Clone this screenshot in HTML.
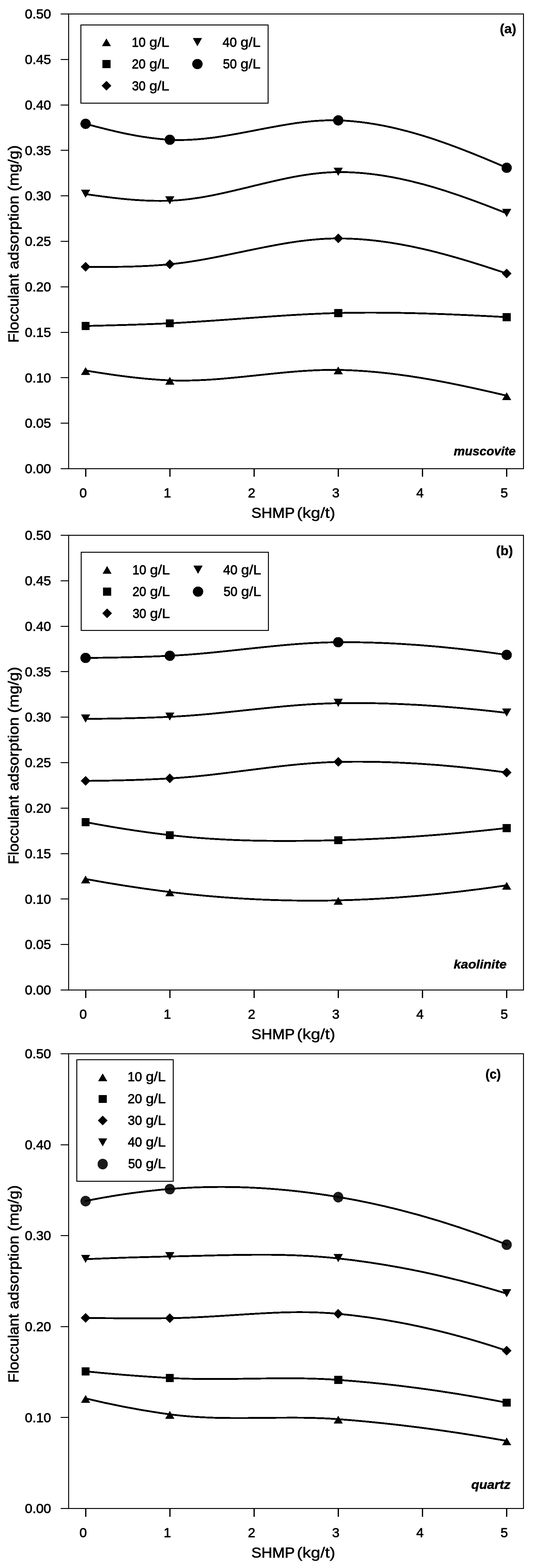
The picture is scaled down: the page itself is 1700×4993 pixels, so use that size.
<!DOCTYPE html>
<html lang="en"><head><meta charset="utf-8"><title>Flocculant adsorption (mg/g) vs SHMP (kg/t)</title>
<style>
html,body{margin:0;padding:0;background:#fff}
body{width:1700px;height:4993px;overflow:hidden}
svg{display:block}
text{font-family:"Liberation Sans",sans-serif;fill:#000;stroke:#000;stroke-linejoin:round}
.tk{font-size:42.3px}
.ti{font-size:45.5px}
.lg{font-size:42.3px}
.pl{font-size:42.0px;font-weight:bold}
.mn{font-size:38.6px;font-weight:bold;font-style:italic}
</style></head><body>
<svg width="1700" height="4993" viewBox="0 0 1700 4993">
<rect width="1700" height="4993" fill="#fff"/>

<g id="chart1" shape-rendering="crispEdges">
<rect x="218.5" y="44.5" width="1448.0" height="1448.0" fill="none" stroke="#000" stroke-width="3.0"/>
<path d="M193.0 1492.5H218.5M193.0 1347.7H218.5M193.0 1202.9H218.5M193.0 1058.1H218.5M193.0 913.3H218.5M193.0 768.5H218.5M193.0 623.7H218.5M193.0 478.9H218.5M193.0 334.1H218.5M193.0 189.3H218.5M193.0 44.5H218.5" stroke="#000" stroke-width="3.0" fill="none"/>
<path d="M271 1492h4v26h-4zM539 1492h4v26h-4zM807 1492h4v26h-4zM1075 1492h4v26h-4zM1343 1492h4v26h-4zM1611 1492h4v26h-4z" fill="#000"/>
<text class="tk" x="79.38" y="1507.20" textLength="83.19" lengthAdjust="spacingAndGlyphs" stroke-width="1.18">0.00</text>
<text class="tk" x="79.38" y="1362.40" textLength="83.31" lengthAdjust="spacingAndGlyphs" stroke-width="1.17">0.05</text>
<text class="tk" x="79.38" y="1217.60" textLength="83.19" lengthAdjust="spacingAndGlyphs" stroke-width="1.18">0.10</text>
<text class="tk" x="79.38" y="1072.80" textLength="83.31" lengthAdjust="spacingAndGlyphs" stroke-width="1.17">0.15</text>
<text class="tk" x="79.38" y="928.00" textLength="83.19" lengthAdjust="spacingAndGlyphs" stroke-width="1.18">0.20</text>
<text class="tk" x="79.38" y="783.20" textLength="83.31" lengthAdjust="spacingAndGlyphs" stroke-width="1.17">0.25</text>
<text class="tk" x="79.38" y="638.40" textLength="83.19" lengthAdjust="spacingAndGlyphs" stroke-width="1.18">0.30</text>
<text class="tk" x="79.38" y="493.60" textLength="83.31" lengthAdjust="spacingAndGlyphs" stroke-width="1.17">0.35</text>
<text class="tk" x="79.38" y="348.80" textLength="83.19" lengthAdjust="spacingAndGlyphs" stroke-width="1.18">0.40</text>
<text class="tk" x="79.38" y="204.00" textLength="83.31" lengthAdjust="spacingAndGlyphs" stroke-width="1.17">0.45</text>
<text class="tk" x="79.38" y="59.20" textLength="83.19" lengthAdjust="spacingAndGlyphs" stroke-width="1.18">0.50</text>
<text class="tk" x="264.7" y="1584.3" text-anchor="middle" stroke-width="1.2">0</text>
<text class="tk" x="532.8" y="1584.3" text-anchor="middle" stroke-width="1.2">1</text>
<text class="tk" x="800.9" y="1584.3" text-anchor="middle" stroke-width="1.2">2</text>
<text class="tk" x="1069.0" y="1584.3" text-anchor="middle" stroke-width="1.2">3</text>
<text class="tk" x="1337.1" y="1584.3" text-anchor="middle" stroke-width="1.2">4</text>
<text class="tk" x="1605.2" y="1584.3" text-anchor="middle" stroke-width="1.2">5</text>
<text class="ti" y="1648.60"><tspan x="800.34" textLength="137.03" lengthAdjust="spacingAndGlyphs" stroke-width="1.15">SHMP</tspan> <tspan x="944.95" textLength="122.62" lengthAdjust="spacingAndGlyphs" stroke-width="0.83">(kg/t)</tspan></text>
<text class="ti" transform="translate(59.30 1087.90) rotate(-90)" y="0"><tspan x="-3.41" textLength="219.22" lengthAdjust="spacingAndGlyphs" stroke-width="1.12">Flocculant</tspan> <tspan x="230.47" textLength="234.59" lengthAdjust="spacingAndGlyphs" stroke-width="1.01">adsorption</tspan> <tspan x="479.02" textLength="146.64" lengthAdjust="spacingAndGlyphs" stroke-width="0.99">(mg/g)</tspan></text>
<path d="M272.50 1179.90C361.87 1194.53 451.23 1207.56 540.60 1211.10C719.33 1218.17 898.07 1175.12 1076.80 1178.00C1255.53 1180.88 1434.27 1217.56 1613.00 1260.00" fill="none" stroke="#000" stroke-width="5.8" stroke-linecap="round"/>
<path d="M272.50 1038.00C361.87 1035.96 451.23 1033.66 540.60 1029.40C719.33 1020.88 898.07 1001.19 1076.80 996.80C1255.53 992.41 1434.27 1000.01 1613.00 1009.90" fill="none" stroke="#000" stroke-width="5.8" stroke-linecap="round"/>
<path d="M272.50 849.60C361.87 850.43 451.23 850.16 540.60 841.50C719.33 824.17 898.07 759.15 1076.80 759.20C1255.53 759.25 1434.27 810.27 1613.00 871.00" fill="none" stroke="#000" stroke-width="5.8" stroke-linecap="round"/>
<path d="M272.50 618.00C361.87 631.26 451.23 642.30 540.60 639.10C719.33 632.70 898.07 549.31 1076.80 548.00C1255.53 546.69 1434.27 607.43 1613.00 679.30" fill="none" stroke="#000" stroke-width="5.8" stroke-linecap="round"/>
<path d="M272.50 394.30C361.87 418.51 451.23 439.99 540.60 445.00C719.33 455.01 898.07 377.61 1076.80 383.30C1255.53 388.99 1434.27 456.28 1613.00 534.20" fill="none" stroke="#000" stroke-width="5.8" stroke-linecap="round"/>
<path d="M257.9 1193.9L272.5 1168.9L287.1 1193.9Z" fill="#000"/>
<path d="M526.0 1225.1L540.6 1200.1L555.2 1225.1Z" fill="#000"/>
<path d="M1062.2 1192.0L1076.8 1167.0L1091.4 1192.0Z" fill="#000"/>
<path d="M1598.4 1274.0L1613.0 1249.0L1627.6 1274.0Z" fill="#000"/>
<rect x="259.7" y="1025.2" width="25.6" height="25.6" fill="#000"/>
<rect x="527.8" y="1016.6" width="25.6" height="25.6" fill="#000"/>
<rect x="1064.0" y="984.0" width="25.6" height="25.6" fill="#000"/>
<rect x="1600.2" y="997.1" width="25.6" height="25.6" fill="#000"/>
<path d="M257.1 849.6L272.5 834.2L287.9 849.6L272.5 865.0Z" fill="#000"/>
<path d="M525.2 841.5L540.6 826.1L556.0 841.5L540.6 856.9Z" fill="#000"/>
<path d="M1061.4 759.2L1076.8 743.8L1092.2 759.2L1076.8 774.6Z" fill="#000"/>
<path d="M1597.6 871.0L1613.0 855.6L1628.4 871.0L1613.0 886.4Z" fill="#000"/>
<path d="M257.9 604.0L272.5 630.0L287.1 604.0Z" fill="#000"/>
<path d="M526.0 625.1L540.6 651.1L555.2 625.1Z" fill="#000"/>
<path d="M1062.2 534.0L1076.8 560.0L1091.4 534.0Z" fill="#000"/>
<path d="M1598.4 665.3L1613.0 691.3L1627.6 665.3Z" fill="#000"/>
<circle cx="272.5" cy="394.3" r="16.4" fill="#000"/>
<circle cx="540.6" cy="445.0" r="16.4" fill="#000"/>
<circle cx="1076.8" cy="383.3" r="16.4" fill="#000"/>
<circle cx="1613.0" cy="534.2" r="16.4" fill="#000"/>
<rect x="257.5" y="79.5" width="595.8" height="249.0" fill="#fff" stroke="#000" stroke-width="3.0"/>
<path d="M324.3 147.4L338.9 122.4L353.5 147.4Z" fill="#000"/>
<text class="lg" y="149.30"><tspan x="419.39" textLength="44.12" lengthAdjust="spacingAndGlyphs" stroke-width="1.33">10</tspan> <tspan x="475.58" textLength="63.39" lengthAdjust="spacingAndGlyphs" stroke-width="1.03">g/L</tspan></text>
<rect x="326.1" y="191.1" width="25.6" height="25.6" fill="#000"/>
<text class="lg" y="218.40"><tspan x="419.70" textLength="43.79" lengthAdjust="spacingAndGlyphs" stroke-width="1.35">20</tspan> <tspan x="475.58" textLength="63.39" lengthAdjust="spacingAndGlyphs" stroke-width="1.03">g/L</tspan></text>
<path d="M323.5 272.9L338.9 257.5L354.3 272.9L338.9 288.3Z" fill="#000"/>
<text class="lg" y="287.50"><tspan x="420.23" textLength="43.23" lengthAdjust="spacingAndGlyphs" stroke-width="1.37">30</tspan> <tspan x="475.58" textLength="63.39" lengthAdjust="spacingAndGlyphs" stroke-width="1.03">g/L</tspan></text>
<path d="M613.9 121.3L628.5 147.3L643.1 121.3Z" fill="#000"/>
<text class="lg" y="149.30"><tspan x="708.52" textLength="45.37" lengthAdjust="spacingAndGlyphs" stroke-width="1.28">40</tspan> <tspan x="765.88" textLength="63.39" lengthAdjust="spacingAndGlyphs" stroke-width="1.03">g/L</tspan></text>
<circle cx="628.5" cy="203.9" r="16.4" fill="#000"/>
<text class="lg" y="218.40"><tspan x="709.68" textLength="44.14" lengthAdjust="spacingAndGlyphs" stroke-width="1.33">50</tspan> <tspan x="765.88" textLength="63.39" lengthAdjust="spacingAndGlyphs" stroke-width="1.03">g/L</tspan></text>
<text class="pl" x="1591.18" y="106.00" textLength="52.42" lengthAdjust="spacingAndGlyphs" stroke-width="0.66">(a)</text>
<text class="mn" x="1444.57" y="1450.20" textLength="197.11" lengthAdjust="spacingAndGlyphs" stroke-width="0.94">muscovite</text>
</g>
<g id="chart2" shape-rendering="crispEdges">
<rect x="218.5" y="1704.5" width="1448.0" height="1448.0" fill="none" stroke="#000" stroke-width="3.0"/>
<path d="M193.0 3152.5H218.5M193.0 3007.7H218.5M193.0 2862.9H218.5M193.0 2718.1H218.5M193.0 2573.3H218.5M193.0 2428.5H218.5M193.0 2283.7H218.5M193.0 2138.9H218.5M193.0 1994.1H218.5M193.0 1849.3H218.5M193.0 1704.5H218.5" stroke="#000" stroke-width="3.0" fill="none"/>
<path d="M271 3152h4v26h-4zM539 3152h4v26h-4zM807 3152h4v26h-4zM1075 3152h4v26h-4zM1343 3152h4v26h-4zM1611 3152h4v26h-4z" fill="#000"/>
<text class="tk" x="79.38" y="3167.20" textLength="83.19" lengthAdjust="spacingAndGlyphs" stroke-width="1.18">0.00</text>
<text class="tk" x="79.38" y="3022.40" textLength="83.31" lengthAdjust="spacingAndGlyphs" stroke-width="1.17">0.05</text>
<text class="tk" x="79.38" y="2877.60" textLength="83.19" lengthAdjust="spacingAndGlyphs" stroke-width="1.18">0.10</text>
<text class="tk" x="79.38" y="2732.80" textLength="83.31" lengthAdjust="spacingAndGlyphs" stroke-width="1.17">0.15</text>
<text class="tk" x="79.38" y="2588.00" textLength="83.19" lengthAdjust="spacingAndGlyphs" stroke-width="1.18">0.20</text>
<text class="tk" x="79.38" y="2443.20" textLength="83.31" lengthAdjust="spacingAndGlyphs" stroke-width="1.17">0.25</text>
<text class="tk" x="79.38" y="2298.40" textLength="83.19" lengthAdjust="spacingAndGlyphs" stroke-width="1.18">0.30</text>
<text class="tk" x="79.38" y="2153.60" textLength="83.31" lengthAdjust="spacingAndGlyphs" stroke-width="1.17">0.35</text>
<text class="tk" x="79.38" y="2008.80" textLength="83.19" lengthAdjust="spacingAndGlyphs" stroke-width="1.18">0.40</text>
<text class="tk" x="79.38" y="1864.00" textLength="83.31" lengthAdjust="spacingAndGlyphs" stroke-width="1.17">0.45</text>
<text class="tk" x="79.38" y="1719.20" textLength="83.19" lengthAdjust="spacingAndGlyphs" stroke-width="1.18">0.50</text>
<text class="tk" x="264.7" y="3244.3" text-anchor="middle" stroke-width="1.2">0</text>
<text class="tk" x="532.8" y="3244.3" text-anchor="middle" stroke-width="1.2">1</text>
<text class="tk" x="800.9" y="3244.3" text-anchor="middle" stroke-width="1.2">2</text>
<text class="tk" x="1069.0" y="3244.3" text-anchor="middle" stroke-width="1.2">3</text>
<text class="tk" x="1337.1" y="3244.3" text-anchor="middle" stroke-width="1.2">4</text>
<text class="tk" x="1605.2" y="3244.3" text-anchor="middle" stroke-width="1.2">5</text>
<text class="ti" y="3308.60"><tspan x="800.34" textLength="137.03" lengthAdjust="spacingAndGlyphs" stroke-width="1.15">SHMP</tspan> <tspan x="944.95" textLength="122.62" lengthAdjust="spacingAndGlyphs" stroke-width="0.83">(kg/t)</tspan></text>
<text class="ti" transform="translate(59.30 2748.90) rotate(-90)" y="0"><tspan x="-3.41" textLength="219.22" lengthAdjust="spacingAndGlyphs" stroke-width="1.12">Flocculant</tspan> <tspan x="230.47" textLength="234.59" lengthAdjust="spacingAndGlyphs" stroke-width="1.01">adsorption</tspan> <tspan x="479.02" textLength="146.64" lengthAdjust="spacingAndGlyphs" stroke-width="0.99">(mg/g)</tspan></text>
<path d="M272.50 2799.00C361.87 2815.43 451.23 2829.51 540.60 2840.40C719.33 2862.18 898.07 2871.12 1076.80 2867.00C1255.53 2862.88 1434.27 2845.65 1613.00 2819.10" fill="none" stroke="#000" stroke-width="5.8" stroke-linecap="round"/>
<path d="M272.50 2617.90C361.87 2634.88 451.23 2649.08 540.60 2659.30C719.33 2679.74 898.07 2679.97 1076.80 2675.40C1255.53 2670.83 1434.27 2657.19 1613.00 2636.70" fill="none" stroke="#000" stroke-width="5.8" stroke-linecap="round"/>
<path d="M272.50 2486.60C361.87 2485.94 451.23 2483.75 540.60 2478.70C719.33 2468.61 898.07 2430.22 1076.80 2426.20C1255.53 2422.18 1434.27 2435.65 1613.00 2459.90" fill="none" stroke="#000" stroke-width="5.8" stroke-linecap="round"/>
<path d="M272.50 2289.10C361.87 2288.58 451.23 2286.78 540.60 2282.60C719.33 2274.24 898.07 2241.94 1076.80 2239.10C1255.53 2236.26 1434.27 2248.48 1613.00 2270.00" fill="none" stroke="#000" stroke-width="5.8" stroke-linecap="round"/>
<path d="M272.50 2095.00C361.87 2094.35 451.23 2092.46 540.60 2088.20C719.33 2079.67 898.07 2046.25 1076.80 2045.00C1255.53 2043.75 1434.27 2059.31 1613.00 2085.30" fill="none" stroke="#000" stroke-width="5.8" stroke-linecap="round"/>
<path d="M257.9 2813.0L272.5 2788.0L287.1 2813.0Z" fill="#000"/>
<path d="M526.0 2854.4L540.6 2829.4L555.2 2854.4Z" fill="#000"/>
<path d="M1062.2 2881.0L1076.8 2856.0L1091.4 2881.0Z" fill="#000"/>
<path d="M1598.4 2833.1L1613.0 2808.1L1627.6 2833.1Z" fill="#000"/>
<rect x="259.7" y="2605.1" width="25.6" height="25.6" fill="#000"/>
<rect x="527.8" y="2646.5" width="25.6" height="25.6" fill="#000"/>
<rect x="1064.0" y="2662.6" width="25.6" height="25.6" fill="#000"/>
<rect x="1600.2" y="2623.9" width="25.6" height="25.6" fill="#000"/>
<path d="M257.1 2486.6L272.5 2471.2L287.9 2486.6L272.5 2502.0Z" fill="#000"/>
<path d="M525.2 2478.7L540.6 2463.3L556.0 2478.7L540.6 2494.1Z" fill="#000"/>
<path d="M1061.4 2426.2L1076.8 2410.8L1092.2 2426.2L1076.8 2441.6Z" fill="#000"/>
<path d="M1597.6 2459.9L1613.0 2444.5L1628.4 2459.9L1613.0 2475.3Z" fill="#000"/>
<path d="M257.9 2275.1L272.5 2301.1L287.1 2275.1Z" fill="#000"/>
<path d="M526.0 2268.6L540.6 2294.6L555.2 2268.6Z" fill="#000"/>
<path d="M1062.2 2225.1L1076.8 2251.1L1091.4 2225.1Z" fill="#000"/>
<path d="M1598.4 2256.0L1613.0 2282.0L1627.6 2256.0Z" fill="#000"/>
<circle cx="272.5" cy="2095.0" r="16.4" fill="#000"/>
<circle cx="540.6" cy="2088.2" r="16.4" fill="#000"/>
<circle cx="1076.8" cy="2045.0" r="16.4" fill="#000"/>
<circle cx="1613.0" cy="2085.3" r="16.4" fill="#000"/>
<rect x="258.9" y="1758.5" width="595.6" height="249.0" fill="#fff" stroke="#000" stroke-width="3.2"/>
<path d="M326.3 1827.4L340.9 1802.4L355.5 1827.4Z" fill="#000"/>
<text class="lg" y="1829.30"><tspan x="421.39" textLength="44.12" lengthAdjust="spacingAndGlyphs" stroke-width="1.33">10</tspan> <tspan x="477.58" textLength="63.39" lengthAdjust="spacingAndGlyphs" stroke-width="1.03">g/L</tspan></text>
<rect x="328.1" y="1871.1" width="25.6" height="25.6" fill="#000"/>
<text class="lg" y="1898.40"><tspan x="421.70" textLength="43.79" lengthAdjust="spacingAndGlyphs" stroke-width="1.35">20</tspan> <tspan x="477.58" textLength="63.39" lengthAdjust="spacingAndGlyphs" stroke-width="1.03">g/L</tspan></text>
<path d="M325.5 1952.9L340.9 1937.5L356.3 1952.9L340.9 1968.3Z" fill="#000"/>
<text class="lg" y="1967.50"><tspan x="422.23" textLength="43.23" lengthAdjust="spacingAndGlyphs" stroke-width="1.37">30</tspan> <tspan x="477.58" textLength="63.39" lengthAdjust="spacingAndGlyphs" stroke-width="1.03">g/L</tspan></text>
<path d="M615.9 1801.3L630.5 1827.3L645.1 1801.3Z" fill="#000"/>
<text class="lg" y="1829.30"><tspan x="710.52" textLength="45.37" lengthAdjust="spacingAndGlyphs" stroke-width="1.28">40</tspan> <tspan x="767.88" textLength="63.39" lengthAdjust="spacingAndGlyphs" stroke-width="1.03">g/L</tspan></text>
<circle cx="630.5" cy="1883.9" r="16.4" fill="#000"/>
<text class="lg" y="1898.40"><tspan x="711.68" textLength="44.14" lengthAdjust="spacingAndGlyphs" stroke-width="1.33">50</tspan> <tspan x="767.88" textLength="63.39" lengthAdjust="spacingAndGlyphs" stroke-width="1.03">g/L</tspan></text>
<text class="pl" x="1579.25" y="1767.60" textLength="53.68" lengthAdjust="spacingAndGlyphs" stroke-width="0.70">(b)</text>
<text class="mn" x="1444.20" y="3084.20" textLength="168.70" lengthAdjust="spacingAndGlyphs" stroke-width="0.85">kaolinite</text>
</g>
<g id="chart3" shape-rendering="crispEdges">
<rect x="218.5" y="3355.5" width="1448.0" height="1448.0" fill="none" stroke="#000" stroke-width="3.0"/>
<path d="M193.0 4803.5H218.5M193.0 4513.9H218.5M193.0 4224.3H218.5M193.0 3934.7H218.5M193.0 3645.1H218.5M193.0 3355.5H218.5" stroke="#000" stroke-width="3.0" fill="none"/>
<path d="M271 4804h4v26h-4zM539 4804h4v26h-4zM807 4804h4v26h-4zM1075 4804h4v26h-4zM1343 4804h4v26h-4zM1611 4804h4v26h-4z" fill="#000"/>
<text class="tk" x="79.38" y="4818.20" textLength="83.19" lengthAdjust="spacingAndGlyphs" stroke-width="1.18">0.00</text>
<text class="tk" x="79.38" y="4528.60" textLength="83.19" lengthAdjust="spacingAndGlyphs" stroke-width="1.18">0.10</text>
<text class="tk" x="79.38" y="4239.00" textLength="83.19" lengthAdjust="spacingAndGlyphs" stroke-width="1.18">0.20</text>
<text class="tk" x="79.38" y="3949.40" textLength="83.19" lengthAdjust="spacingAndGlyphs" stroke-width="1.18">0.30</text>
<text class="tk" x="79.38" y="3659.80" textLength="83.19" lengthAdjust="spacingAndGlyphs" stroke-width="1.18">0.40</text>
<text class="tk" x="79.38" y="3370.20" textLength="83.19" lengthAdjust="spacingAndGlyphs" stroke-width="1.18">0.50</text>
<text class="tk" x="264.7" y="4895.3" text-anchor="middle" stroke-width="1.2">0</text>
<text class="tk" x="532.8" y="4895.3" text-anchor="middle" stroke-width="1.2">1</text>
<text class="tk" x="800.9" y="4895.3" text-anchor="middle" stroke-width="1.2">2</text>
<text class="tk" x="1069.0" y="4895.3" text-anchor="middle" stroke-width="1.2">3</text>
<text class="tk" x="1337.1" y="4895.3" text-anchor="middle" stroke-width="1.2">4</text>
<text class="tk" x="1605.2" y="4895.3" text-anchor="middle" stroke-width="1.2">5</text>
<text class="ti" y="4959.60"><tspan x="800.34" textLength="137.03" lengthAdjust="spacingAndGlyphs" stroke-width="1.15">SHMP</tspan> <tspan x="944.95" textLength="122.62" lengthAdjust="spacingAndGlyphs" stroke-width="0.83">(kg/t)</tspan></text>
<text class="ti" transform="translate(59.30 4399.50) rotate(-90)" y="0"><tspan x="-3.41" textLength="219.22" lengthAdjust="spacingAndGlyphs" stroke-width="1.12">Flocculant</tspan> <tspan x="230.47" textLength="234.59" lengthAdjust="spacingAndGlyphs" stroke-width="1.01">adsorption</tspan> <tspan x="479.02" textLength="146.64" lengthAdjust="spacingAndGlyphs" stroke-width="0.99">(mg/g)</tspan></text>
<path d="M272.50 4453.00C361.87 4474.50 451.23 4491.70 540.60 4503.70C719.33 4527.69 898.07 4505.60 1076.80 4519.10C1255.53 4532.60 1434.27 4556.41 1613.00 4588.30" fill="none" stroke="#000" stroke-width="5.8" stroke-linecap="round"/>
<path d="M272.50 4366.80C361.87 4375.85 451.23 4383.07 540.60 4388.00C719.33 4397.85 898.07 4381.22 1076.80 4394.00C1255.53 4406.78 1434.27 4431.69 1613.00 4466.60" fill="none" stroke="#000" stroke-width="5.8" stroke-linecap="round"/>
<path d="M272.50 4196.80C361.87 4197.89 451.23 4198.24 540.60 4197.40C719.33 4195.72 898.07 4166.62 1076.80 4183.60C1255.53 4200.58 1434.27 4240.95 1613.00 4301.00" fill="none" stroke="#000" stroke-width="5.8" stroke-linecap="round"/>
<path d="M272.50 4009.50C361.87 4005.52 451.23 4002.69 540.60 4001.00C719.33 3997.61 898.07 3987.54 1076.80 4007.20C1255.53 4026.86 1434.27 4065.05 1613.00 4119.10" fill="none" stroke="#000" stroke-width="5.8" stroke-linecap="round"/>
<path d="M272.50 3824.30C361.87 3806.21 451.23 3793.23 540.60 3786.00C719.33 3771.54 898.07 3781.65 1076.80 3811.60C1255.53 3841.55 1434.27 3892.88 1613.00 3963.10" fill="none" stroke="#000" stroke-width="5.8" stroke-linecap="round"/>
<path d="M257.9 4467.0L272.5 4442.0L287.1 4467.0Z" fill="#000"/>
<path d="M526.0 4517.7L540.6 4492.7L555.2 4517.7Z" fill="#000"/>
<path d="M1062.2 4533.1L1076.8 4508.1L1091.4 4533.1Z" fill="#000"/>
<path d="M1598.4 4602.3L1613.0 4577.3L1627.6 4602.3Z" fill="#000"/>
<rect x="259.7" y="4354.0" width="25.6" height="25.6" fill="#000"/>
<rect x="527.8" y="4375.2" width="25.6" height="25.6" fill="#000"/>
<rect x="1064.0" y="4381.2" width="25.6" height="25.6" fill="#000"/>
<rect x="1600.2" y="4453.8" width="25.6" height="25.6" fill="#000"/>
<path d="M257.1 4196.8L272.5 4181.4L287.9 4196.8L272.5 4212.2Z" fill="#000"/>
<path d="M525.2 4197.4L540.6 4182.0L556.0 4197.4L540.6 4212.8Z" fill="#000"/>
<path d="M1061.4 4183.6L1076.8 4168.2L1092.2 4183.6L1076.8 4199.0Z" fill="#000"/>
<path d="M1597.6 4301.0L1613.0 4285.6L1628.4 4301.0L1613.0 4316.4Z" fill="#000"/>
<path d="M257.9 3995.5L272.5 4021.5L287.1 3995.5Z" fill="#000"/>
<path d="M526.0 3987.0L540.6 4013.0L555.2 3987.0Z" fill="#000"/>
<path d="M1062.2 3993.2L1076.8 4019.2L1091.4 3993.2Z" fill="#000"/>
<path d="M1598.4 4105.1L1613.0 4131.1L1627.6 4105.1Z" fill="#000"/>
<ellipse cx="272.5" cy="3824.8" rx="16.4" ry="16.9" fill="#1b1b1b"/>
<ellipse cx="540.6" cy="3786.5" rx="16.4" ry="16.9" fill="#1b1b1b"/>
<ellipse cx="1076.8" cy="3812.1" rx="16.4" ry="16.9" fill="#1b1b1b"/>
<ellipse cx="1613.0" cy="3963.6" rx="16.4" ry="16.9" fill="#1b1b1b"/>
<path d="M272.50 3824.30C361.87 3806.21 451.23 3793.23 540.60 3786.00C719.33 3771.54 898.07 3781.65 1076.80 3811.60C1255.53 3841.55 1434.27 3892.88 1613.00 3963.10" fill="none" stroke="#000" stroke-width="5.8" stroke-linecap="round"/>
<rect x="244.5" y="3374.5" width="307.1" height="387.0" fill="#fff" stroke="#000" stroke-width="3.0"/>
<path d="M312.3 3442.9L326.9 3417.9L341.5 3442.9Z" fill="#000"/>
<text class="lg" y="3443.40"><tspan x="405.89" textLength="46.35" lengthAdjust="spacingAndGlyphs" stroke-width="1.23">10</tspan> <tspan x="464.18" textLength="63.39" lengthAdjust="spacingAndGlyphs" stroke-width="1.03">g/L</tspan></text>
<rect x="314.1" y="3486.6" width="25.6" height="25.6" fill="#000"/>
<text class="lg" y="3512.50"><tspan x="406.26" textLength="45.96" lengthAdjust="spacingAndGlyphs" stroke-width="1.25">20</tspan> <tspan x="464.18" textLength="63.39" lengthAdjust="spacingAndGlyphs" stroke-width="1.03">g/L</tspan></text>
<path d="M311.5 3568.2L326.9 3552.8L342.3 3568.2L326.9 3583.6Z" fill="#000"/>
<text class="lg" y="3581.60"><tspan x="406.81" textLength="45.38" lengthAdjust="spacingAndGlyphs" stroke-width="1.28">30</tspan> <tspan x="464.18" textLength="63.39" lengthAdjust="spacingAndGlyphs" stroke-width="1.03">g/L</tspan></text>
<path d="M312.3 3624.5L326.9 3650.5L341.5 3624.5Z" fill="#000"/>
<text class="lg" y="3650.70"><tspan x="406.92" textLength="45.26" lengthAdjust="spacingAndGlyphs" stroke-width="1.28">40</tspan> <tspan x="464.18" textLength="63.39" lengthAdjust="spacingAndGlyphs" stroke-width="1.03">g/L</tspan></text>
<ellipse cx="326.9" cy="3706.8" rx="16.4" ry="16.9" fill="#1b1b1b"/>
<text class="lg" y="3719.80"><tspan x="408.08" textLength="44.02" lengthAdjust="spacingAndGlyphs" stroke-width="1.34">50</tspan> <tspan x="464.18" textLength="63.39" lengthAdjust="spacingAndGlyphs" stroke-width="1.03">g/L</tspan></text>
<text class="pl" x="1545.40" y="3435.00" textLength="48.89" lengthAdjust="spacingAndGlyphs" stroke-width="0.80">(c)</text>
<text class="mn" x="1500.17" y="4741.00" textLength="125.02" lengthAdjust="spacingAndGlyphs" stroke-width="0.85">quartz</text>
</g>
</svg></body></html>
